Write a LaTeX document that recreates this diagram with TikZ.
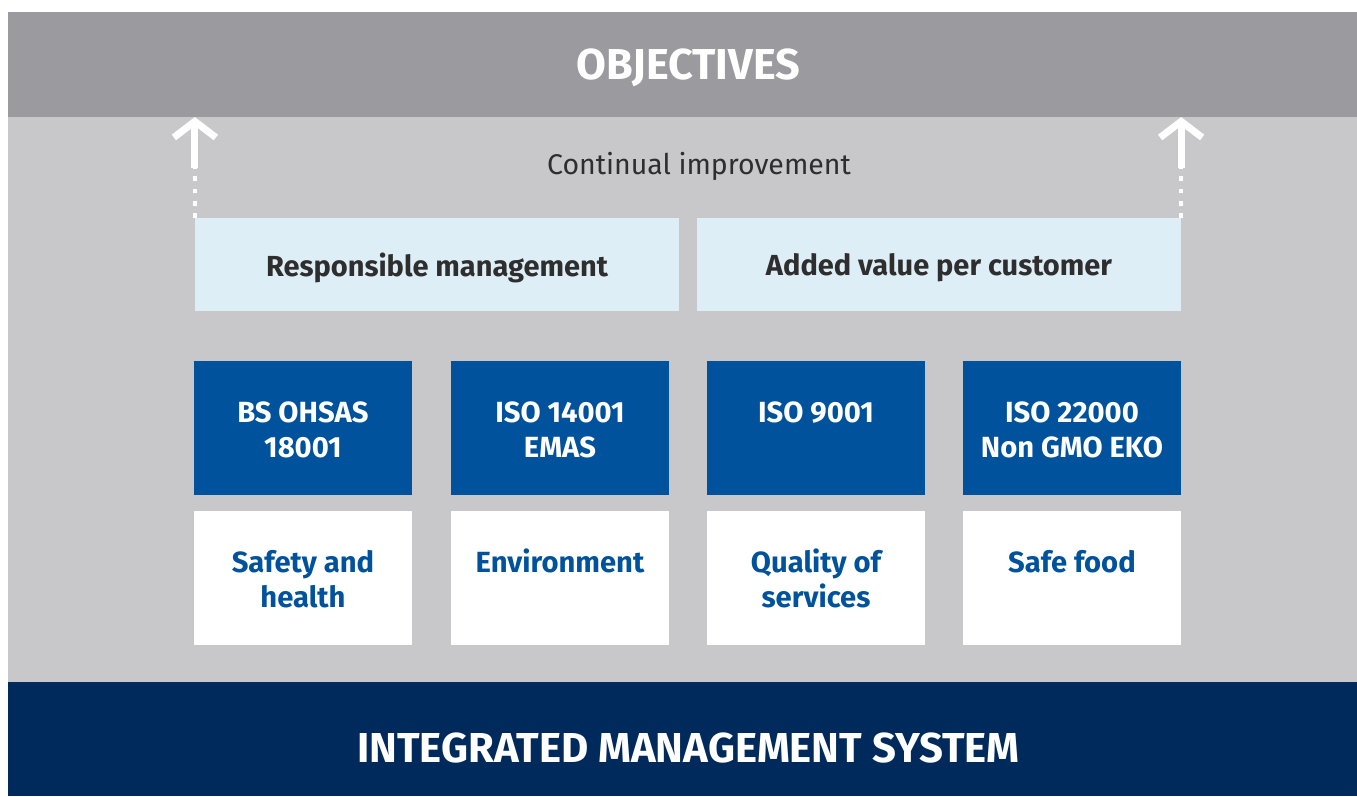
\documentclass[tikz,border=0pt]{standalone}
\usepackage{fontspec}
\setmainfont{Fira Sans}
\usetikzlibrary{arrows.meta}
\definecolor{topgray}{HTML}{9B9B9F}
\definecolor{midgray}{HTML}{C8C8CA}
\definecolor{paleblue}{HTML}{DEEEF7}
\definecolor{certblue}{HTML}{00529C}
\definecolor{navy}{HTML}{002A5B}
\definecolor{darktext}{HTML}{2E2E2E}
\newcommand\boxstrut{\rule[-1.2pt]{0pt}{9.2pt}}

\begin{document}
\begin{tikzpicture}[x=0.01cm,y=-0.01cm,inner sep=0pt,outer sep=0pt,
  band/.style={minimum width=13.61cm,text=white,text depth=0pt},
  valuebox/.style={fill=paleblue,minimum width=4.84cm,minimum height=0.93cm,
    text=darktext,text depth=0pt,font=\bfseries\fontsize{8.25}{10}\selectfont},
  certbox/.style={fill=certblue,minimum width=2.18cm,minimum height=1.34cm,
    text=white,align=center,font=\bfseries\fontsize{8.3}{10}\selectfont},
  areabox/.style={fill=white,minimum width=2.18cm,minimum height=1.34cm,
    text=certblue,align=center,font=\bfseries\fontsize{8.3}{10}\selectfont},
  uparrow/.style={white,line width=2pt,-{Straight Barb[length=1.6mm,width=4.2mm,line width=2pt]}},
  dotline/.style={white,line width=1.3pt,dash pattern=on 1.3pt off 2.2pt}]
\useasboundingbox (0,0) rectangle (1357,796);
% bands (run past the right edge)
\node[band,fill=topgray,minimum height=1.05cm,
  font=\bfseries\fontsize{12.3}{15}\selectfont] (objectives) at (688.5,64.5) {OBJECTIVES};
\node[band,fill=midgray,minimum height=5.65cm] (field) at (688.5,399.5) {};
\node[band,fill=navy,minimum height=1.14cm,text height=0.46cm,
  font=\bfseries\fontsize{11.9}{15}\selectfont] (ims) at (688.5,739) {INTEGRATED MANAGEMENT SYSTEM};
% values
\node[text=darktext,text depth=0pt,font=\fontsize{8.1}{10}\selectfont] (improve) at (699,163) {Continual improvement};
\node[valuebox] (resp) at (437,264.5) {Responsible management};
\node[valuebox] (added) at (939,264.5) {Added value per customer};
% standards
\node[certbox] (ohsas) at (303,428) {BS OHSAS\boxstrut\\18001\boxstrut};
\node[certbox] (iso14) at (560,428) {ISO 14001\boxstrut\\EMAS\boxstrut};
\node[certbox] (iso9) at (816,428) {ISO 9001\boxstrut\\\boxstrut};
\node[certbox] (iso22) at (1072,428) {ISO 22000\boxstrut\\Non GMO EKO\boxstrut};
\node[areabox] (safety) at (303,578) {Safety and\boxstrut\\health\boxstrut};
\node[areabox] (env) at (560,578) {Environment\boxstrut\\\boxstrut};
\node[areabox] (quality) at (816,578) {Quality of\boxstrut\\services\boxstrut};
\node[areabox] (food) at (1072,578) {Safe food\boxstrut\\\boxstrut};
% arrows
\coordinate (lstart) at ([yshift=0.5cm]resp.north west);
\coordinate (rstart) at ([yshift=0.5cm]added.north east);
\draw[dotline] (resp.north west) -- (lstart);
\draw[dotline] (added.north east) -- (rstart);
\draw[uparrow] (lstart) -- (lstart |- objectives.south);
\draw[uparrow] (rstart) -- (rstart |- objectives.south);
\end{tikzpicture}
\end{document}
